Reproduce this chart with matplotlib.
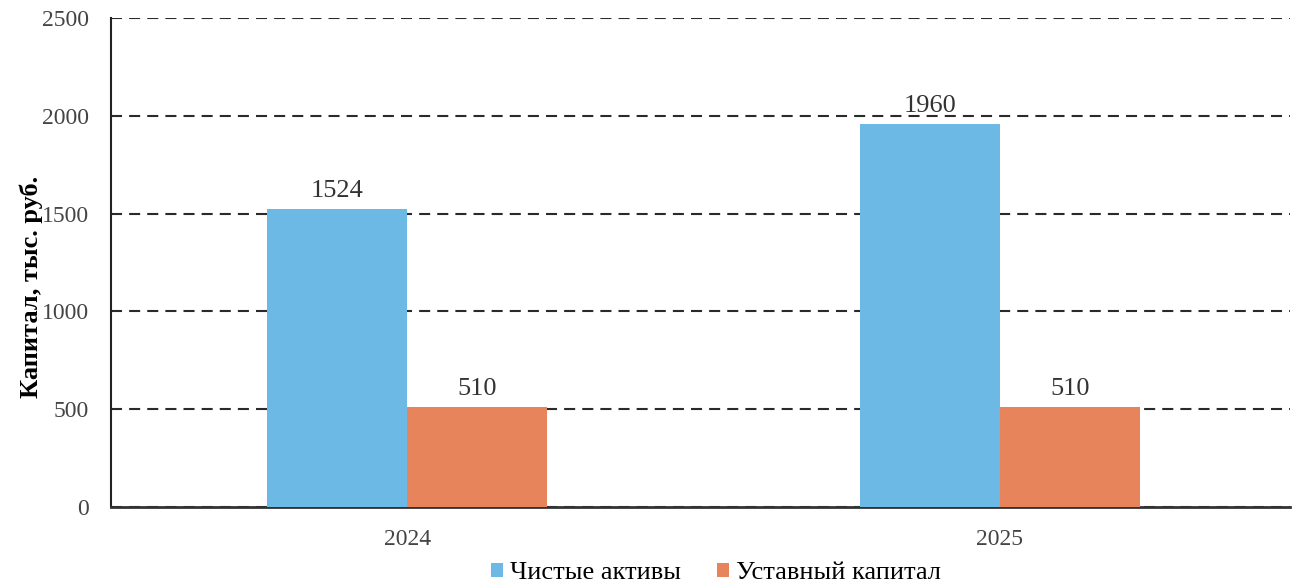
import numpy as np
import matplotlib.pyplot as plt

plt.rcParams['font.family'] = ['Liberation Serif', 'DejaVu Serif']

years = ['2024', '2025']
net_assets = [1524, 1960]
charter_capital = [510, 510]
series_names = ['Чистые активы', 'Уставный капитал']

fig = plt.figure(figsize=(13.01, 5.85), dpi=100)
ax = fig.add_axes([111 / 1301, 1 - 507 / 585, 1179 / 1301, 489 / 585])

x = np.arange(len(years))
w = 0.2365
b1 = ax.bar(x - w / 2, net_assets, w, color='#6cb9e6', label=series_names[0], zorder=3)
b2 = ax.bar(x + w / 2, charter_capital, w, color='#e8845b', label=series_names[1], zorder=3)

for bars in (b1, b2):
    for r in bars:
        ax.annotate(f'{r.get_height():.0f}', (r.get_x() + r.get_width() / 2, r.get_height()),
                    xytext=(0, 5), textcoords='offset points',
                    ha='center', va='bottom', fontsize=19, color='#333333', zorder=4)

ax.set_xlim(-0.5, 1.49)
ax.set_ylim(0, 2500)
ax.set_yticks(range(0, 2501, 500))
ax.set_xticks(x)
ax.set_xticklabels(years)
ax.tick_params(axis='both', length=0, labelsize=17, labelcolor='#444444')
ax.tick_params(axis='y', pad=16)
ax.tick_params(axis='x', pad=16)
ax.yaxis.grid(True, linestyle=(0, (5.3, 3.4)), color='#2a2a2a', linewidth=1.5, zorder=1)

for s in ('top', 'right'):
    ax.spines[s].set_visible(False)
ax.spines['left'].set_color('#222222')
ax.spines['bottom'].set_color('#333333')
ax.spines['left'].set_linewidth(1.5)
ax.spines['bottom'].set_linewidth(2)

ax.set_ylabel('Капитал, тыс. руб.', fontsize=19, fontweight='bold')
ax.yaxis.set_label_coords(-0.058, 0.45)

fig.legend(handles=[b1, b2], labels=series_names, loc='center',
           bbox_to_anchor=(716 / 1301, 1 - 573 / 585), ncol=2, frameon=False,
           fontsize=19, handlelength=0.45, handleheight=0.45, handletextpad=0.28,
           columnspacing=1.36, borderpad=0)

plt.savefig('out.png')
